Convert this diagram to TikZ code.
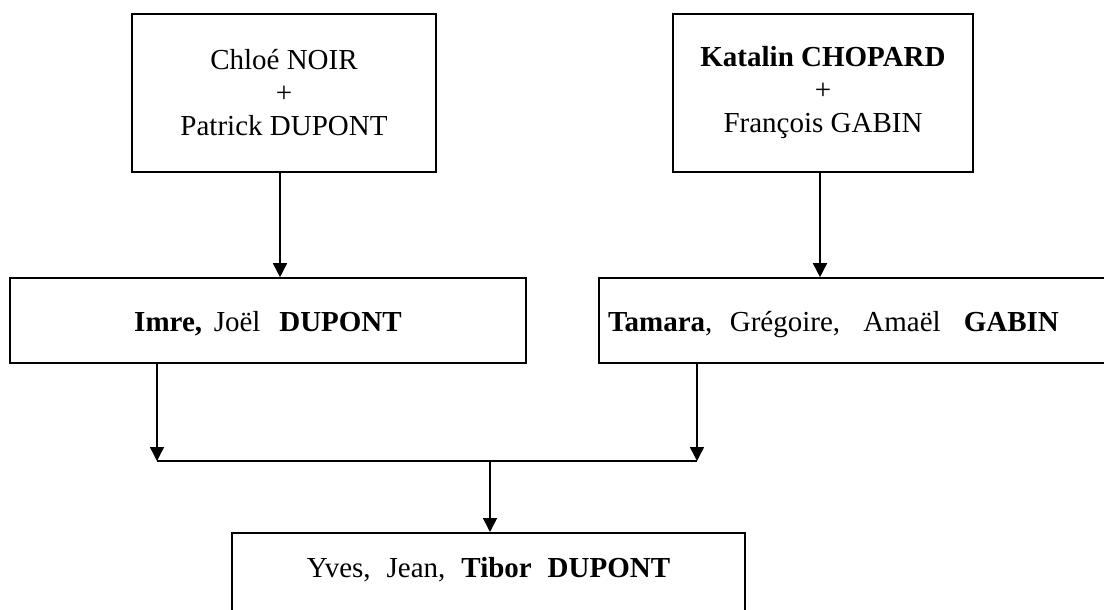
\documentclass[tikz,border=0pt]{standalone}
\usepackage{fontspec}
\setmainfont{Liberation Serif}
\usetikzlibrary{arrows.meta}
\begin{document}
\begin{tikzpicture}[x=1pt,y=-1pt,
  box/.style={draw, line width=1.6pt, rectangle, inner sep=0pt,
    font=\fontsize{29}{33}\selectfont, align=center},
  arr/.style={line width=1.6pt, -{Triangle[width=14pt,length=14pt]}},
  link/.style={line width=1.6pt}]
\useasboundingbox (0,0) rectangle (1104,610);
\clip (0,0) rectangle (1104,610);

% parents
\node[box, minimum width=304pt, minimum height=158pt] (a) at (284,93)
  {Chloé NOIR\\+\\Patrick DUPONT};
\node[box, minimum width=300pt, minimum height=158pt] (b) at (823,93)
  {\textbf{Katalin CHOPARD}\\+\\François GABIN};

% children
\node[box, minimum width=516pt, minimum height=85pt, text height=25pt, text depth=4pt]
  (c) at (268,320.5) {\textbf{Imre,}\hspace{0.4em}Joël\hspace{0.65em}\textbf{DUPONT}};
\node[box, minimum width=507pt, minimum height=85pt, text height=25pt, text depth=4pt,
  text width=489pt, align=left, inner xsep=9pt]
  (d) at (852.5,320.5)
  {\textbf{Tamara},\hspace{0.6em}Grégoire,\hspace{0.8em}Amaël\hspace{0.8em}\textbf{GABIN}};

% grandchild
\node[box, anchor=north, minimum width=513pt, text height=19pt, text depth=52pt, inner ysep=26pt]
  (e) at (488.5,532)
  {Yves,\hspace{0.55em}Jean,\hspace{0.55em}\textbf{Tibor}\hspace{0.55em}\textbf{DUPONT}};

% junction points
\coordinate (jl) at (157,461);
\coordinate (jr) at (697,461);
\coordinate (jm) at (490,461);

\draw[arr] (a.south -| 280,0) -- (c.north -| 280,0);
\draw[arr] (b.south -| 820,0) -- (d.north -| 820,0);
\draw[arr] (c.south -| jl) -- (jl);
\draw[arr] (d.south -| jr) -- (jr);
\draw[link] (jl) -- (jr);
\draw[arr] (jm) -- (e.north -| jm);
\end{tikzpicture}
\end{document}
